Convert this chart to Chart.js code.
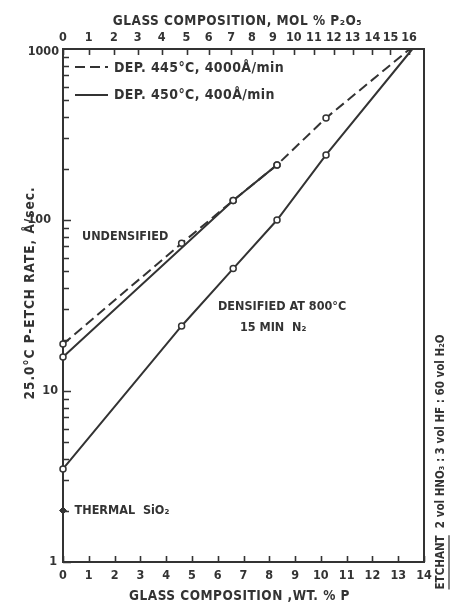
<!DOCTYPE html>
<html>
<head>
<meta charset="utf-8">
<script src="https://cdn.jsdelivr.net/npm/chart.js@4/dist/chart.umd.min.js"></script>
<style>
  html, body { margin: 0; padding: 0; background: #fff; }
  #c { display: block; }
</style>
</head>
<body>
<canvas id="c" width="454" height="603"></canvas>
<script>
// Bottom axis: glass composition, wt. % P
const wtTicks = [0, 1, 2, 3, 4, 5, 6, 7, 8, 9, 10, 11, 12, 13, 14];
// Top axis: mol % P2O5, placed at the equivalent wt. % P
const molTickLabels = ['0','1','2','3','4','5','6','7','8','9','10','11','12','13','14','15','16'];
const molTickWt = [0, 1.0, 1.97, 2.9, 3.83, 4.79, 5.65, 6.52, 7.33, 8.14, 8.95, 9.73, 10.5, 11.23, 12.0, 12.7, 13.42];
// Etch-rate axis (log)
const rateMajor = [1, 10, 100, 1000];
const rateMajorLabels = ['1', '10', '100', '1000'];

// Undensified, deposited 445 °C at 4000 Å/min (dashed)
const dep445Wt   = [0, 4.6, 6.6, 8.3, 10.2, 13.45];
const dep445Rate = [18.8, 73, 130, 210, 395, 1000];
const dep445Measured = [true, true, true, true, true, false];

// Undensified, deposited 450 °C at 400 Å/min (solid)
const dep450Wt   = [0, 6.6, 8.3];
const dep450Rate = [15.8, 130, 210];
const dep450Measured = [true, true, true];

// Densified at 800 °C, 15 min N2 (solid)
const densWt   = [0, 4.6, 6.6, 8.3, 10.2, 13.55];
const densRate = [3.5, 24, 52, 100, 240, 1000];
const densMeasured = [true, true, true, true, true, false];

// Thermal SiO2 reference
const thermalWt = [0];
const thermalRate = [2.0];

const INK = '#333';
const FONT = '"DejaVu Sans Condensed", "DejaVu Sans", sans-serif';
// right edge of each hand-lettered rate label
const rateLabelRight = [57, 58, 51, 59];

function pts(xs, ys) { return xs.map((x, i) => ({ x: x, y: ys[i] })); }
function radii(flags) { return flags.map(f => f ? 3 : 0); }

const frameAndTicks = {
  id: 'frameAndTicks',
  beforeDatasetsDraw(chart) {
    const { ctx, chartArea: a, scales } = chart;
    const x = scales.x, y = scales.y;
    ctx.save();
    ctx.strokeStyle = INK;
    ctx.lineWidth = 2;
    ctx.strokeRect(a.left, a.top, a.right - a.left, a.bottom - a.top);
    ctx.lineWidth = 1.6;
    ctx.beginPath();
    // bottom ticks (inward)
    wtTicks.forEach(v => {
      const px = Math.round(x.getPixelForValue(v)) + 0.5;
      ctx.moveTo(px, a.bottom); ctx.lineTo(px, a.bottom - 6);
    });
    // top ticks (inward)
    molTickWt.forEach(v => {
      const px = Math.round(x.getPixelForValue(v)) + 0.5;
      ctx.moveTo(px, a.top); ctx.lineTo(px, a.top + 6);
    });
    // left ticks: majors and 2..9 minors in each decade
    for (let d = 1; d < 1000; d *= 10) {
      for (let m = 1; m <= 9; m++) {
        const v = d * m;
        const py = Math.round(y.getPixelForValue(v)) + 0.5;
        ctx.moveTo(a.left, py); ctx.lineTo(a.left + (m === 1 ? 8 : 6), py);
      }
    }
    ctx.stroke();
    ctx.restore();
  },
  afterDraw(chart) {
    const { ctx, chartArea: a, scales } = chart;
    const x = scales.x, y = scales.y;
    ctx.save();
    ctx.fillStyle = INK;
    ctx.strokeStyle = INK;
    ctx.textBaseline = 'middle';

    // tick labels
    ctx.font = 'bold 12.5px ' + FONT;
    ctx.textAlign = 'center';
    wtTicks.forEach(v => ctx.fillText(String(v), x.getPixelForValue(v), a.bottom + 14));
    molTickWt.forEach((v, i) => ctx.fillText(molTickLabels[i], x.getPixelForValue(v), a.top - 11));
    ctx.textAlign = 'right';
    rateMajor.forEach((v, i) => ctx.fillText(rateMajorLabels[i], rateLabelRight[i], y.getPixelForValue(v) + (i === 3 ? 3 : 0)));

    // axis titles
    ctx.font = 'bold 13.5px ' + FONT;
    ctx.textAlign = 'center';
    ctx.letterSpacing = '0.5px';
    ctx.fillText('GLASS COMPOSITION, MOL % P\u2082O\u2085', (a.left + a.right) / 2 - 6, 21);
    ctx.fillText('GLASS COMPOSITION ,WT. % P', (a.left + a.right) / 2 - 4, 596);

    ctx.save();
    ctx.letterSpacing = '1px';
    ctx.translate(30, 293);
    ctx.rotate(-Math.PI / 2);
    ctx.fillText('25.0\u00B0C P-ETCH RATE, \u00C5/sec.', 0, 0);
    ctx.restore();
    ctx.letterSpacing = '0px';

    // etchant note on the right
    ctx.save();
    ctx.translate(441, 462);
    ctx.rotate(-Math.PI / 2);
    ctx.font = 'bold 11.5px ' + FONT;
    ctx.textAlign = 'left';
    const note1 = 'ETCHANT';
    const note2 = '  2 vol HNO\u2083 : 3 vol HF : 60 vol H\u2082O';
    const w1 = ctx.measureText(note1).width;
    const w2 = ctx.measureText(note2).width;
    const x0 = -(w1 + w2) / 2;
    ctx.fillText(note1, x0, 0);
    ctx.fillText(note2, x0 + w1, 0);
    ctx.lineWidth = 1.2;
    ctx.beginPath();
    ctx.moveTo(x0, 8); ctx.lineTo(x0 + w1, 8);
    ctx.stroke();
    ctx.restore();

    // curve annotations
    ctx.font = 'bold 12.5px ' + FONT;
    ctx.textAlign = 'left';
    ctx.fillText('UNDENSIFIED', x.getPixelForValue(0.74), y.getPixelForValue(79.6));
    ctx.fillText('DENSIFIED AT 800\u00B0C', x.getPixelForValue(6.01), y.getPixelForValue(31));
    ctx.fillText('15 MIN  N\u2082', x.getPixelForValue(6.86), y.getPixelForValue(23.3));
    ctx.fillText('THERMAL  SiO\u2082', x.getPixelForValue(0.45), y.getPixelForValue(2.0));

    // legend
    ctx.lineWidth = 2;
    ctx.setLineDash([10, 5]);
    ctx.beginPath(); ctx.moveTo(75, 67); ctx.lineTo(108, 67); ctx.stroke();
    ctx.setLineDash([]);
    ctx.beginPath(); ctx.moveTo(75, 95); ctx.lineTo(108, 95); ctx.stroke();
    ctx.font = 'bold 14px ' + FONT;
    ctx.letterSpacing = '0.4px';
    ctx.fillText('DEP. 445\u00B0C, 4000\u00C5/min', 114, 68);
    ctx.fillText('DEP. 450\u00B0C, 400\u00C5/min', 114, 95);
    ctx.restore();
  }
};

new Chart(document.getElementById('c'), {
  type: 'scatter',
  data: {
    datasets: [
      {
        label: 'DEP. 445°C, 4000Å/min',
        data: pts(dep445Wt, dep445Rate),
        showLine: true,
        borderColor: INK,
        borderWidth: 2,
        borderDash: [10, 5],
        pointRadius: radii(dep445Measured),
        pointBackgroundColor: '#fff',
        pointBorderColor: INK,
        pointBorderWidth: 1.5,
        clip: false
      },
      {
        label: 'DEP. 450°C, 400Å/min',
        data: pts(dep450Wt, dep450Rate),
        showLine: true,
        borderColor: INK,
        borderWidth: 2,
        pointRadius: radii(dep450Measured),
        pointBackgroundColor: '#fff',
        pointBorderColor: INK,
        pointBorderWidth: 1.5,
        clip: false
      },
      {
        label: 'DENSIFIED AT 800°C 15 MIN N2',
        data: pts(densWt, densRate),
        showLine: true,
        borderColor: INK,
        borderWidth: 2,
        pointRadius: radii(densMeasured),
        pointBackgroundColor: '#fff',
        pointBorderColor: INK,
        pointBorderWidth: 1.5,
        clip: false
      },
      {
        label: 'THERMAL SiO2',
        data: pts(thermalWt, thermalRate),
        showLine: false,
        pointStyle: 'rectRot',
        pointRadius: 3.5,
        pointBackgroundColor: INK,
        pointBorderColor: INK,
        clip: false
      }
    ]
  },
  options: {
    responsive: false,
    devicePixelRatio: 1,
    animation: false,
    layout: { padding: { left: 63, top: 49, right: 30, bottom: 41 } },
    plugins: { legend: { display: false }, tooltip: { enabled: false } },
    scales: {
      x: { type: 'linear', min: 0, max: 14, display: false },
      y: { type: 'logarithmic', min: 1, max: 1000, display: false }
    }
  },
  plugins: [frameAndTicks]
});
</script>
</body>
</html>
